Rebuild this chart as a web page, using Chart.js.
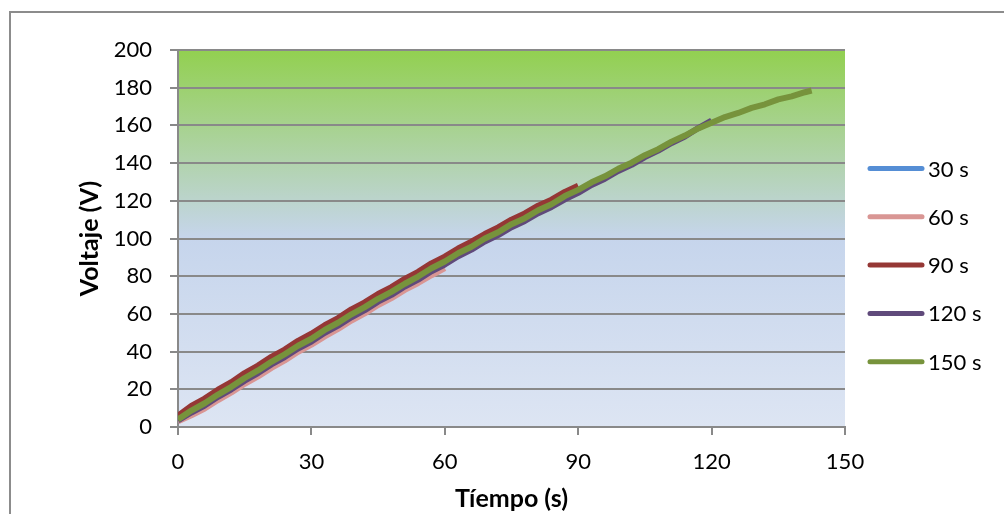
<!DOCTYPE html>
<html lang="es">
<head>
<meta charset="utf-8">
<title>Voltaje vs Tiempo</title>
<script src="https://cdn.jsdelivr.net/npm/chart.js@4/dist/chart.umd.min.js"></script>
<style>
    html, body {
        margin: 0;
        padding: 0;
        background: #ffffff;
    }
    #wrap {
        width: 1004px;
        height: 514px;
    }
</style>
</head>
<body>
<div id="wrap"><canvas id="myChart" width="1004" height="514"></canvas></div>
<script>
// 時間 (s)
const tiempo = [
    0, 3, 6, 9, 12, 15, 18, 21, 24, 27, 30, 33, 36, 39, 42, 45, 48, 51, 54, 57,
    60, 63, 66, 69, 72, 75, 78, 81, 84, 87, 90, 93, 96, 99, 102, 105, 108, 111, 114, 117,
    120, 123, 126, 129, 132, 135, 138, 141, 142.5,
];

// 各系列の電圧 (V)
const serie30 = [3.8, 8.2, 12.1, 16.6, 20.8, 25.3, 29.4, 33.9, 37.9, 42.3, 46.3];

const serie60 = [
    3.0, 6.2, 9.8, 14.3, 18.3, 22.9, 26.8, 31.3, 35.3, 39.9, 43.7,
    48.1, 52.0, 56.5, 60.3, 64.7, 68.4, 72.7, 76.4, 80.5, 84.3,
];

const serie90 = [
    6.0, 11.2, 15.1, 19.8, 23.8, 28.6, 32.6, 37.2, 41.1, 45.7, 49.5,
    54.0, 57.8, 62.4, 66.1, 70.6, 74.2, 78.6, 82.3, 86.8, 90.4,
    94.7, 98.3, 102.4, 105.9, 110.0, 113.3, 117.4, 120.6, 124.7, 128.0,
];

const serie120 = [
    3.5, 7.7, 11.4, 16.0, 20.0, 24.6, 28.6, 33.2, 37.1, 41.6, 45.3,
    50.0, 53.8, 58.2, 62.0, 66.5, 70.1, 74.5, 78.2, 82.6, 86.2,
    90.6, 94.1, 98.4, 101.8, 106.0, 109.3, 113.4, 116.7, 120.8, 124.2,
    128.4, 131.7, 135.8, 139.1, 143.2, 146.6, 150.7, 154.1, 158.6, 162.6,
];

const serie150 = [
    4.0, 8.7, 12.6, 17.2, 21.3, 26.0, 30.0, 34.6, 38.6, 43.1, 46.8,
    51.5, 55.3, 59.8, 63.6, 68.0, 71.7, 76.0, 79.8, 84.2, 87.8,
    92.2, 95.6, 100.0, 103.3, 107.6, 110.8, 115.0, 118.2, 122.5, 125.8,
    129.8, 133.0, 137.0, 140.2, 144.2, 147.4, 151.4, 154.6, 158.4, 161.4,
    164.4, 166.6, 169.3, 171.2, 173.8, 175.4, 177.6, 178.5,
];

const etiquetas = ['30 s', '60 s', '90 s', '120 s', '150 s'];
const colores = ['#558ed5', '#d99694', '#953735', '#604a7b', '#77933c'];

const ticksX = [0, 30, 60, 90, 120, 150];
const ticksY = [0, 20, 40, 60, 80, 100, 120, 140, 160, 180, 200];

const FONT = 'Lato, "Noto Sans", sans-serif';
const GRIS = '#898989';

/**
 * 時間と電圧を点の配列にします。
 */
const toPoints = (values) => values.map((v, i) => ({ x: tiempo[i], y: v }));

/**
 * プロット領域の背景グラデーションと外枠を描きます。
 */
const fondoPlugin = {
    id: 'fondo',
    beforeDraw: (chart) => {
        const { ctx, chartArea } = chart;
        const { left, top, right, bottom } = chartArea;

        ctx.save();
        ctx.fillStyle = '#ffffff';
        ctx.fillRect(0, 0, chart.width, chart.height);

        // 外枠 (右と下は画像の外)
        ctx.strokeStyle = '#8c8c8c';
        ctx.lineWidth = 2;
        ctx.beginPath();
        ctx.moveTo(10, chart.height + 5);
        ctx.lineTo(10, 12);
        ctx.lineTo(chart.width + 5, 12);
        ctx.stroke();

        const grad = ctx.createLinearGradient(0, top, 0, bottom);
        grad.addColorStop(0, '#92d050');
        grad.addColorStop(0.5, '#c6d5ec');
        grad.addColorStop(1, '#dde5f3');
        ctx.fillStyle = grad;
        ctx.fillRect(left, top, right - left, bottom - top);
        ctx.restore();
    },
};

/**
 * 右側の凡例を描きます。
 */
const leyendaPlugin = {
    id: 'leyenda',
    afterDraw: (chart) => {
        const { ctx, chartArea } = chart;
        const x0 = chartArea.right + 23;
        const y0 = chartArea.top + 118.5;

        ctx.save();
        ctx.font = '22px ' + FONT;
        ctx.textBaseline = 'middle';
        ctx.textAlign = 'left';
        ctx.lineCap = 'round';
        ctx.lineWidth = 5;

        chart.data.datasets.forEach((ds, i) => {
            const y = y0 + i * 48.3;
            ctx.strokeStyle = ds.borderColor;
            ctx.beginPath();
            ctx.moveTo(x0 + 2, y);
            ctx.lineTo(x0 + 54, y);
            ctx.stroke();
            ctx.fillStyle = '#000000';
            ctx.fillText(ds.label, x0 + 60, y + 1);
        });
        ctx.restore();
    },
};

const createChart = () => {
    const series = [serie30, serie60, serie90, serie120, serie150];

    const datasets = series.map((values, i) => ({
        label: etiquetas[i],
        data: toPoints(values),
        borderColor: colores[i],
        backgroundColor: colores[i],
        borderWidth: 6,
        pointRadius: 0,
        tension: 0,
        borderJoinStyle: 'round',
        borderCapStyle: 'butt',
        // 後の系列を上に描く
        order: series.length - i,
    }));

    Chart.defaults.font.family = FONT;
    Chart.defaults.color = '#000000';

    const config = {
        type: 'line',
        data: { datasets: datasets },
        options: {
            responsive: false,
            animation: false,
            devicePixelRatio: 1,
            layout: {
                padding: { top: 50, right: 159, bottom: 0, left: 0 },
            },
            plugins: {
                legend: { display: false },
                tooltip: { enabled: false },
            },
            scales: {
                x: {
                    type: 'linear',
                    min: 0,
                    max: 150,
                    afterFit: (scale) => {
                        scale.height = 87;
                    },
                    afterBuildTicks: (scale) => {
                        scale.ticks = ticksX.map((v) => ({ value: v }));
                    },
                    grid: {
                        drawOnChartArea: false,
                        drawTicks: true,
                        tickLength: 8,
                        tickColor: GRIS,
                        lineWidth: 2,
                    },
                    border: { display: true, color: GRIS, width: 2 },
                    ticks: {
                        font: { size: 22 },
                        padding: 14,
                        maxRotation: 0,
                    },
                    title: {
                        display: true,
                        text: 'Tíempo (s)',
                        font: { size: 25, weight: 'bold' },
                        padding: { top: 0, bottom: 0 },
                    },
                },
                y: {
                    type: 'linear',
                    min: 0,
                    max: 200,
                    afterFit: (scale) => {
                        scale.width = 178;
                    },
                    afterBuildTicks: (scale) => {
                        scale.ticks = ticksY.map((v) => ({ value: v }));
                    },
                    grid: {
                        drawOnChartArea: true,
                        drawTicks: true,
                        tickLength: 8,
                        color: GRIS,
                        tickColor: GRIS,
                        lineWidth: 2,
                    },
                    border: { display: true, color: GRIS, width: 2 },
                    ticks: {
                        font: { size: 22 },
                        padding: 18,
                    },
                    title: {
                        display: true,
                        text: 'Voltaje (V)',
                        font: { size: 25, weight: 'bold' },
                        padding: { top: 75, bottom: 0 },
                    },
                },
            },
        },
        plugins: [fondoPlugin, leyendaPlugin],
    };

    return new Chart(document.getElementById('myChart'), config);
};

createChart();
</script>
</body>
</html>
